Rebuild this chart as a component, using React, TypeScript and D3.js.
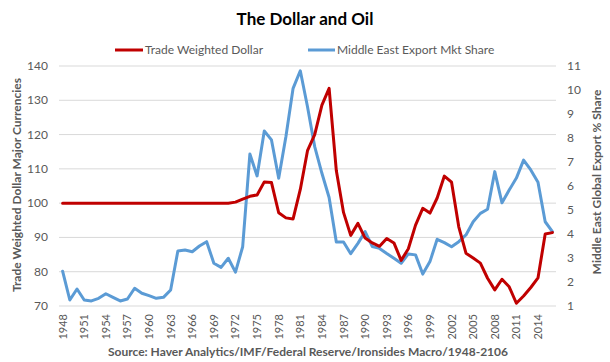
import React from "react";
import * as d3 from "d3";

const years: number[] = [
  1948, 1949, 1950, 1951, 1952, 1953, 1954, 1955, 1956, 1957,
  1958, 1959, 1960, 1961, 1962, 1963, 1964, 1965, 1966, 1967,
  1968, 1969, 1970, 1971, 1972, 1973, 1974, 1975, 1976, 1977,
  1978, 1979, 1980, 1981, 1982, 1983, 1984, 1985, 1986, 1987,
  1988, 1989, 1990, 1991, 1992, 1993, 1994, 1995, 1996, 1997,
  1998, 1999, 2000, 2001, 2002, 2003, 2004, 2005, 2006, 2007,
  2008, 2009, 2010, 2011, 2012, 2013, 2014, 2015, 2016,
];

const dollar: number[] = [
  100, 100, 100, 100, 100, 100, 100, 100, 100, 100,
  100, 100, 100, 100, 100, 100, 100, 100, 100, 100,
  100, 100, 100, 100, 100.3, 101.2, 102, 102.4, 106.2, 106,
  97.2, 95.7, 95.4, 104, 115.3, 120, 128.6, 133.5, 109.5, 97.3,
  90.6, 94.1, 89.8, 88.4, 87.4, 89.7, 88.4, 83.3, 86.7, 93.6,
  98.5, 97.1, 101.5, 107.9, 106.1, 93.1, 85.4, 84, 82.5, 78.1,
  74.7, 77.8, 75.6, 70.8, 72.9, 75.4, 78.2, 91, 91.4,
];

const meShare: number[] = [
  2.45, 1.25, 1.71, 1.25, 1.21, 1.32, 1.51, 1.36, 1.21, 1.29,
  1.74, 1.53, 1.43, 1.32, 1.36, 1.67, 3.29, 3.33, 3.26, 3.5,
  3.68, 2.78, 2.61, 2.99, 2.41, 3.47, 7.33, 6.42, 8.29, 7.92,
  6.32, 8.05, 10.07, 10.8, 9.3, 7.64, 6.53, 5.52, 3.67, 3.67,
  3.18, 3.61, 4.1, 3.48, 3.4, 3.19, 2.99, 2.78, 3.17, 3.13,
  2.33, 2.85, 3.78, 3.64, 3.47, 3.68, 3.96, 4.51, 4.86, 5.03,
  6.6, 5.3, 5.83, 6.33, 7.08, 6.67, 6.16, 4.51, 4.1,
];

const leftTicks: number[] = [70, 80, 90, 100, 110, 120, 130, 140];
const rightTicks: number[] = [1, 2, 3, 4, 5, 6, 7, 8, 9, 10, 11];
const xTickYears: number[] = [
  1948, 1951, 1954, 1957, 1960, 1963, 1966, 1969, 1972, 1975, 1978, 1981,
  1984, 1987, 1990, 1993, 1996, 1999, 2002, 2005, 2008, 2011, 2014,
];

const W = 610;
const H = 362;
const FONT = "Lato, 'Open Sans', sans-serif";
const TXT = "#595959";
const RED = "#c00000";
const BLUE = "#5b9bd5";

export default function App() {
  const left = 59;
  const right = 556;
  const top = 66;
  const bottom = 306;

  const x = d3
    .scaleBand<number>()
    .domain(years)
    .range([left, right])
    .paddingInner(0)
    .paddingOuter(0);
  const cx = (yr: number) => (x(yr) as number) + x.bandwidth() / 2;

  const yL = d3.scaleLinear().domain([70, 140]).range([bottom, top]);
  const yR = d3.scaleLinear().domain([1, 11]).range([bottom, top]);

  const lineDollar = d3
    .line<number>()
    .x((_, i) => cx(years[i]))
    .y((d) => yL(d));
  const lineShare = d3
    .line<number>()
    .x((_, i) => cx(years[i]))
    .y((d) => yR(d));

  return (
    <svg
      width={W}
      height={H}
      style={{ position: "absolute", left: 0, top: 0, background: "#fff" }}
      fontFamily={FONT}
    >
      <rect x={0} y={0} width={W} height={H} fill="#fff" />
      <text
        x={305}
        y={25}
        textAnchor="middle"
        fontSize={17}
        fontWeight="bold"
        fill="#000"
      >
        The Dollar and Oil
      </text>

      {/* legend */}
      <line x1={115} x2={143} y1={50} y2={50} stroke={RED} strokeWidth={3} />
      <text x={145} y={54} fontSize={12} fill={TXT}>
        Trade Weighted Dollar
      </text>
      <line x1={308} x2={335} y1={50} y2={50} stroke={BLUE} strokeWidth={3} />
      <text x={337} y={54} fontSize={12} fill={TXT}>
        Middle East Export Mkt Share
      </text>

      {/* gridlines */}
      {leftTicks.map((t) => (
        <line
          key={"g" + t}
          x1={left}
          x2={right}
          y1={yL(t)}
          y2={yL(t)}
          stroke="#d9d9d9"
          strokeWidth={1}
        />
      ))}

      {/* left ticks */}
      {leftTicks.map((t) => (
        <text
          key={"l" + t}
          x={48}
          y={yL(t) + 4}
          textAnchor="end"
          fontSize={12}
          fill={TXT}
        >
          {t}
        </text>
      ))}
      {/* right ticks */}
      {rightTicks.map((t) => (
        <text
          key={"r" + t}
          x={567}
          y={yR(t) + 4}
          textAnchor="start"
          fontSize={12}
          fill={TXT}
        >
          {t}
        </text>
      ))}

      {/* x labels */}
      {xTickYears.map((yr) => (
        <text
          key={"x" + yr}
          transform={`translate(${cx(yr) + 4},${314}) rotate(-90)`}
          textAnchor="end"
          fontSize={11}
          fill={TXT}
        >
          {yr}
        </text>
      ))}

      {/* axis titles */}
      <text
        transform={`translate(21,185) rotate(-90)`}
        textAnchor="middle"
        fontSize={12}
        fontWeight="bold"
        fill={TXT}
      >
        Trade Weighted Dollar Major Currencies
      </text>
      <text
        transform={`translate(601,182) rotate(-90)`}
        textAnchor="middle"
        fontSize={12}
        fontWeight="bold"
        fill={TXT}
      >
        Middle East Global Export % Share
      </text>

      {/* series */}
      <path
        d={lineShare(meShare) || ""}
        fill="none"
        stroke={BLUE}
        strokeWidth={3}
        strokeLinejoin="round"
        strokeLinecap="round"
      />
      <path
        d={lineDollar(dollar) || ""}
        fill="none"
        stroke={RED}
        strokeWidth={3}
        strokeLinejoin="round"
        strokeLinecap="round"
      />

      <text
        x={308}
        y={356}
        textAnchor="middle"
        fontSize={12}
        fontWeight="bold"
        fill={TXT}
      >
        Source: Haver Analytics/IMF/Federal Reserve/Ironsides Macro/1948-2106
      </text>
    </svg>
  );
}
